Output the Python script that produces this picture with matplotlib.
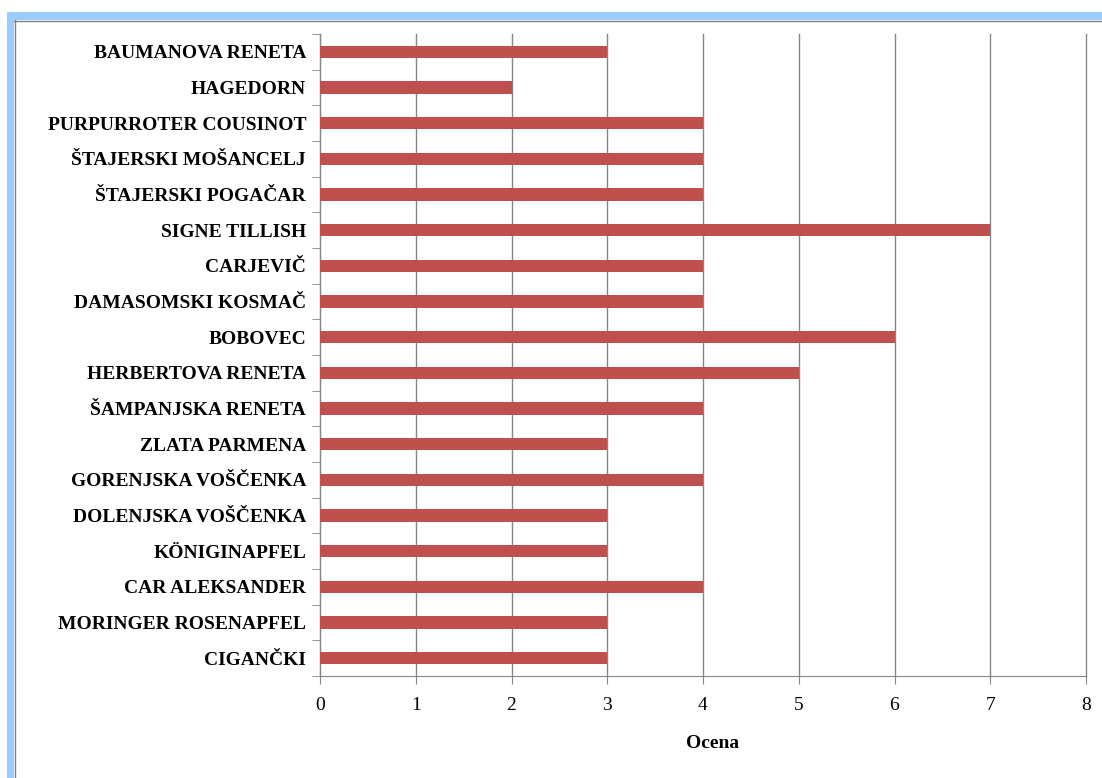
import numpy as np
import matplotlib.pyplot as plt
from matplotlib.patches import Rectangle
from matplotlib.lines import Line2D

# podatki (od zgoraj navzdol)
sorte = ["BAUMANOVA RENETA", "HAGEDORN", "PURPURROTER COUSINOT",
         "ŠTAJERSKI MOŠANCELJ", "ŠTAJERSKI POGAČAR", "SIGNE TILLISH",
         "CARJEVIČ", "DAMASOMSKI KOSMAČ", "BOBOVEC", "HERBERTOVA RENETA",
         "ŠAMPANJSKA RENETA", "ZLATA PARMENA", "GORENJSKA VOŠČENKA",
         "DOLENJSKA VOŠČENKA", "KÖNIGINAPFEL", "CAR ALEKSANDER",
         "MORINGER ROSENAPFEL", "CIGANČKI"]
ocene = [3, 2, 4, 4, 4, 7, 4, 4, 6, 5, 4, 3, 4, 3, 3, 4, 3, 3]
x_ticks = [0, 1, 2, 3, 4, 5, 6, 7, 8]

plt.rcParams["font.family"] = ["Liberation Serif", "DejaVu Serif"]

fig = plt.figure(figsize=(11.02, 7.78), dpi=100)

# okvir (modra robova zgoraj in levo)
fig.patches.append(Rectangle((7 / 1102, 1 - 20 / 778), 1, 8 / 778, transform=fig.transFigure,
                             facecolor="#99CCFF", edgecolor="none"))
fig.patches.append(Rectangle((7 / 1102, 0), 7 / 1102, 1 - 12 / 778, transform=fig.transFigure,
                             facecolor="#99CCFF", edgecolor="none"))
fig.lines.append(Line2D([14 / 1102, 1], [1 - 20.5 / 778, 1 - 20.5 / 778],
                        transform=fig.transFigure, color="#808080", lw=1))
fig.lines.append(Line2D([14.5 / 1102, 14.5 / 1102], [0, 1 - 20 / 778],
                        transform=fig.transFigure, color="#808080", lw=1))

ax = fig.add_axes([320 / 1102, 1 - 676 / 778, (1086 - 320) / 1102, (676 - 34) / 778])

n = len(sorte)
y = np.arange(n)[::-1]
ax.barh(y, ocene, height=0.34, color="#C0504D", zorder=3)

ax.set_xlim(0, 8)
ax.set_ylim(-0.5, n - 0.5)
ax.set_xticks(x_ticks)
ax.set_xticklabels([str(t) for t in x_ticks], fontsize=14)
ax.set_yticks(y)
ax.set_yticklabels(sorte, fontsize=14, fontweight="bold")
ax.set_yticks(np.arange(n + 1) - 0.5, minor=True)
ax.tick_params(axis="y", which="major", length=0, pad=10)
ax.tick_params(axis="y", which="minor", length=6, color="#868686", direction="out")
ax.tick_params(axis="x", length=6, color="#868686", pad=9)

ax.grid(axis="x", color="#868686", lw=1, zorder=0)
for gl in ax.get_xgridlines():
    gl.set_clip_on(False)
for s in ["top", "right"]:
    ax.spines[s].set_visible(False)
for s in ["left", "bottom"]:
    ax.spines[s].set_color("#868686")

ax.set_xlabel("Ocena", fontsize=14, fontweight="bold")
ax.xaxis.set_label_coords(0.513, -0.092)

fig.savefig("out.png", dpi=100)
